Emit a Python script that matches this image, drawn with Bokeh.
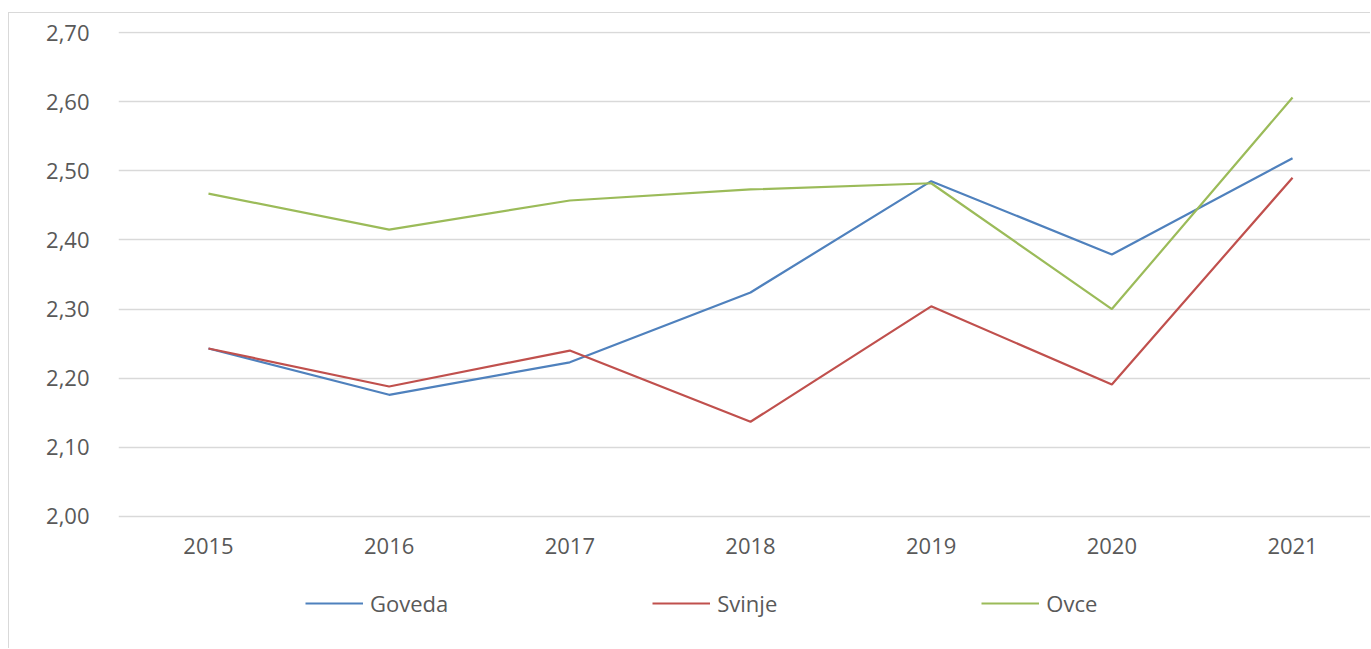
from bokeh.plotting import figure
from bokeh.models import Range1d, FixedTicker, CustomJSTickFormatter, Legend, LegendItem
from bokeh.core.properties import value
from bokeh.embed import file_html
from bokeh.resources import INLINE

years = [2015, 2016, 2017, 2018, 2019, 2020, 2021]
year_labels = ["2015", "2016", "2017", "2018", "2019", "2020", "2021"]
goveda = [2.243, 2.176, 2.223, 2.324, 2.485, 2.379, 2.518]
svinje = [2.243, 2.188, 2.240, 2.137, 2.304, 2.191, 2.490]
ovce = [2.467, 2.415, 2.457, 2.473, 2.482, 2.300, 2.606]
y_ticks = [2.0, 2.1, 2.2, 2.3, 2.4, 2.5, 2.6, 2.7]
y_min = 2.0

FONT = "Open Sans"
TXT = "#595959"

p = figure(width=1362, height=636, output_backend="svg", toolbar_location=None,
           x_range=Range1d(2014.502, 2021.437), y_range=Range1d(1.80764, 2.70145),
           min_border_left=109, min_border_right=0, min_border_top=18, min_border_bottom=0)
p.margin = (12, 0, 0, 8)
p.styles = {"border-top": "1px solid #d9d9d9", "border-left": "1px solid #d9d9d9"}
p.outline_line_color = None
p.background_fill_color = "white"

p.xaxis.visible = False
p.yaxis.ticker = FixedTicker(ticks=y_ticks)
p.yaxis.formatter = CustomJSTickFormatter(code="return tick.toFixed(2).replace('.', ',');")
p.yaxis.axis_line_color = None
p.yaxis.major_tick_line_color = None
p.yaxis.minor_tick_line_color = None
p.yaxis.major_label_text_font = FONT
p.yaxis.major_label_text_font_size = "22px"
p.yaxis.major_label_text_color = TXT
p.yaxis.major_label_standoff = 23

p.xgrid.grid_line_color = None
p.ygrid.ticker = FixedTicker(ticks=y_ticks)
p.ygrid.grid_line_color = "#d9d9d9"
p.ygrid.grid_line_width = 1.5

# category labels under the 2,00 baseline
p.text(x=years, y=[y_min] * len(years), text=year_labels, y_offset=22,
       text_align="center", text_baseline="top", text_font=value(FONT),
       text_font_size="22px", text_color=TXT)

r1 = p.line(years, goveda, line_color="#4f81bd", line_width=2.2)
r2 = p.line(years, svinje, line_color="#c0504d", line_width=2.2)
r3 = p.line(years, ovce, line_color="#9bbb59", line_width=2.2)

legend = Legend(items=[LegendItem(label="Goveda", renderers=[r1]),
                       LegendItem(label="Svinje", renderers=[r2]),
                       LegendItem(label="Ovce", renderers=[r3])],
                orientation="horizontal", location=(187, 31),
                padding=0, margin=0, spacing=204, glyph_width=58, glyph_height=20,
                label_height=20, label_standoff=7,
                label_text_font=FONT, label_text_font_size="22px", label_text_color=TXT,
                border_line_color=None, background_fill_alpha=0)
p.add_layout(legend, "center")

open("out.html", "w").write(file_html(p, INLINE))
